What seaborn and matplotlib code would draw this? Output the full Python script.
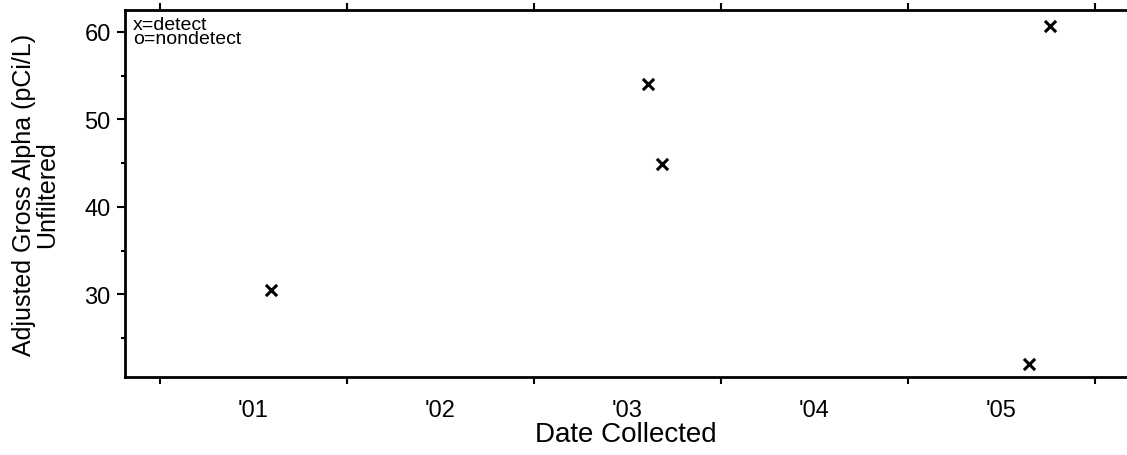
import pandas as pd
import seaborn as sns
import matplotlib.pyplot as plt
import matplotlib.dates as mdates
from matplotlib.ticker import MultipleLocator, NullFormatter

# Datos
fechas = ["2001-08-06", "2003-08-11", "2003-09-09", "2005-08-24", "2005-10-04"]
valores = [30.5, 54.0, 44.9, 22.0, 60.7]
etiquetas_anio = ["'01", "'02", "'03", "'04", "'05"]
anios = [2001, 2002, 2003, 2004, 2005]

df = pd.DataFrame({"fecha": pd.to_datetime(fechas), "valor": valores})

sns.set_style("ticks")
plt.rcParams["font.family"] = ["Liberation Sans", "DejaVu Sans"]
plt.rcParams["text.color"] = "black"
plt.rcParams["axes.labelcolor"] = "black"
plt.rcParams["xtick.color"] = "black"
plt.rcParams["ytick.color"] = "black"

fig = plt.figure(figsize=(11.27, 4.56), dpi=100)
ax = fig.add_axes([0.1105, 0.171, 0.8895, 0.8048])

sns.scatterplot(data=df, x="fecha", y="valor", marker="x", color="black",
                s=65, linewidth=2.2, ax=ax, legend=False)

ax.set_xlim(pd.Timestamp("2000-10-24"), pd.Timestamp("2006-03-04"))
ax.set_ylim(20.56, 62.5)

# Eje x: marcas en el cambio de año, etiquetas a mitad de año
ax.xaxis.set_major_locator(mdates.YearLocator())
ax.xaxis.set_major_formatter(NullFormatter())
ax.set_xticks([pd.Timestamp(f"{a}-07-02") for a in anios], minor=True)
ax.set_xticklabels(etiquetas_anio, minor=True)
ax.tick_params(axis="x", which="major", direction="out", length=5, width=1.5,
               top=True, bottom=True)
ax.tick_params(axis="x", which="minor", length=0, labelsize=17, pad=16)

# Eje y
ax.yaxis.set_major_locator(MultipleLocator(10))
ax.yaxis.set_minor_locator(MultipleLocator(5))
ax.tick_params(axis="y", which="major", direction="out", length=6, width=1.5,
               labelsize=17, pad=4)
ax.tick_params(axis="y", which="minor", direction="out", length=3, width=1.5)

for lado in ["left", "bottom", "top"]:
    ax.spines[lado].set_linewidth(2)
    ax.spines[lado].set_color("black")
ax.spines["right"].set_visible(False)

ax.set_xlabel("Date Collected", fontsize=20, labelpad=0)
ax.set_ylabel("Adjusted Gross Alpha (pCi/L)\nUnfiltered", fontsize=18,
              linespacing=0.95, labelpad=18)

ax.text(0.0085, 0.984, "x=detect\no=nondetect", transform=ax.transAxes,
        fontsize=14, va="top", ha="left", linespacing=0.8)

plt.savefig("out.png", dpi=100)
plt.close()
